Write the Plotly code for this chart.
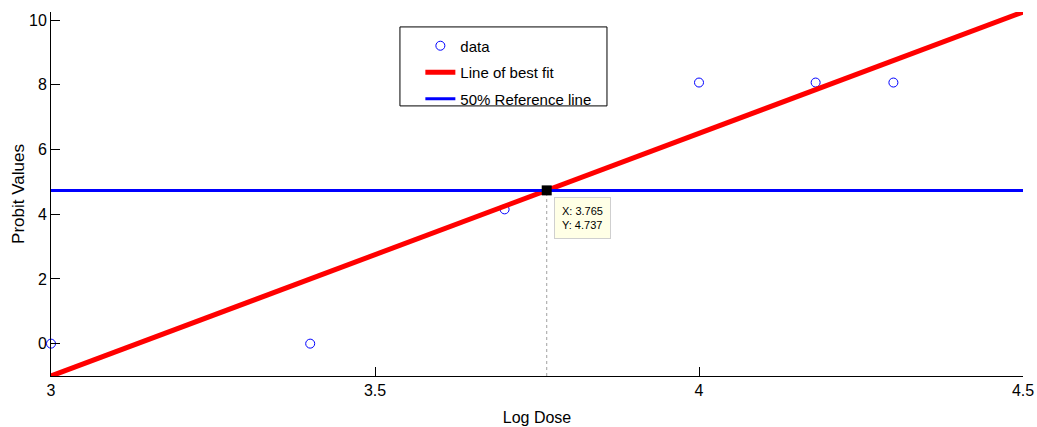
import plotly.graph_objects as go

# Data
log_dose = [3.0, 3.4, 3.7, 4.0, 4.18, 4.3]
probit = [0.0, 0.0, 4.15, 8.07, 8.07, 8.07]

fit_x = [3.0, 4.5]
fit_y = [-1.0, 10.25]

ref_y = 4.737
tip_x = 3.765
tip_y = 4.737

x_ticks = [3, 3.5, 4, 4.5]
x_tick_labels = ["3", "3.5", "4", "4.5"]
y_ticks = [0, 2, 4, 6, 8, 10]
y_tick_labels = ["0", "2", "4", "6", "8", "10"]

x_range = [3.0, 4.5]
y_range = [-1.0, 10.25]

font_family = "Liberation Sans, Arial, sans-serif"

fig = go.Figure()

fig.add_trace(go.Scatter(
    x=log_dose, y=probit, mode="markers", name="data", legendgroup="a",
    marker=dict(symbol="circle-open", size=9, color="#0000FF", line=dict(width=1)),
    cliponaxis=False,
))
fig.add_trace(go.Scatter(
    x=fit_x, y=fit_y, mode="lines", name="Line of best fit", legendgroup="b",
    line=dict(color="#FF0000", width=5),
    cliponaxis=False,
))
fig.add_trace(go.Scatter(
    x=x_range, y=[ref_y, ref_y], mode="lines", name="50% Reference line",
    legendgroup="c",
    line=dict(color="#0000FF", width=3),
))

# datatip dotted guide line
fig.add_shape(type="line", x0=tip_x, x1=tip_x, y0=y_range[0], y1=tip_y,
              xref="x", yref="y", line=dict(color="#888888", width=0.8, dash="dot"),
              layer="below")

# legend frame
fig.add_shape(type="rect", xref="paper", yref="paper",
              x0=0.359, x1=0.572, y0=0.742, y1=0.959,
              line=dict(color="black", width=1), fillcolor="white", layer="above")

fig.add_trace(go.Scatter(
    x=[tip_x], y=[tip_y], mode="markers", showlegend=False,
    marker=dict(symbol="square", size=10, color="black"),
))

fig.add_annotation(
    x=tip_x, y=tip_y, xref="x", yref="y",
    text=f"X: {tip_x:.3f}<br>Y: {tip_y:.3f}",
    showarrow=False, xanchor="left", yanchor="top", align="left",
    xshift=7, yshift=-7,
    bgcolor="#FFFFE6", bordercolor="#CFCFCF", borderwidth=1, borderpad=7,
    font=dict(family=font_family, size=11, color="black"),
)

fig.update_layout(
    width=1037, height=427,
    margin=dict(l=51, r=14, t=12, b=51),
    paper_bgcolor="white", plot_bgcolor="white",
    font=dict(family=font_family, size=16, color="black"),
    showlegend=True,
    legend=dict(
        x=0.380, y=0.952, xanchor="left", yanchor="top",
        bgcolor="rgba(0,0,0,0)", borderwidth=0,
        font=dict(size=15), tracegroupgap=4,
    ),
    xaxis=dict(
        range=x_range, tickvals=x_ticks, ticktext=x_tick_labels,
        showgrid=False, zeroline=False, showline=True, linecolor="black",
        linewidth=1, ticks="inside", ticklen=9, tickcolor="black",
        title=dict(text="Log Dose", font=dict(size=16), standoff=13),
        automargin=False,
    ),
    yaxis=dict(
        range=y_range, tickvals=y_ticks, ticktext=y_tick_labels,
        showgrid=False, zeroline=False, showline=True, linecolor="black",
        linewidth=1, ticks="inside", ticklen=9, tickcolor="black",
        title=dict(text="Probit Values", font=dict(size=17), standoff=0),
        automargin=False,
    ),
)

fig.write_html("out.html", post_script="document.body.style.margin='0';",
               config={"displayModeBar": False})
